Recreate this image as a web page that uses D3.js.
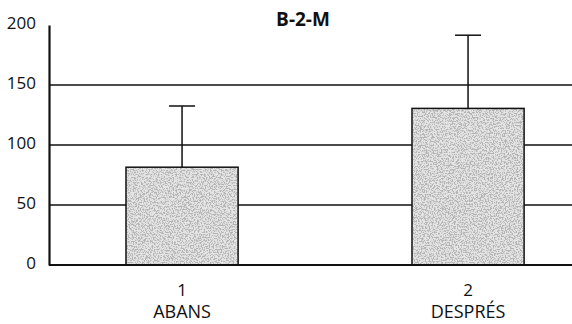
<!DOCTYPE html>
<html>
<head>
<meta charset="utf-8">
<script src="https://cdn.jsdelivr.net/npm/d3@7"></script>
<style>
  body { margin: 0; background: #fff; }
  svg text { font-family: "Open Sans", Lato, sans-serif; fill: #111; }
</style>
</head>
<body>
<svg id="chart"></svg>
<script>
const svgWidth = 572;
const svgHeight = 324;

// data
const groups = ["1", "2"];
const groupNames = ["ABANS", "DESPRÉS"];
const means = [81.5, 130.5];
const errors = [51, 61];
const yTicks = [0, 50, 100, 150, 200];
const gridTicks = [50, 100, 150];
const title = "B-2-M";

const svg = d3.select("#chart")
    .attr("width", svgWidth)
    .attr("height", svgHeight);

// grainy grey fill like the scanned original
const defs = svg.append("defs");
const grain = defs.append("filter")
    .attr("id", "grain")
    .attr("x", 0).attr("y", 0).attr("width", 1).attr("height", 1);
grain.append("feTurbulence")
    .attr("type", "fractalNoise")
    .attr("baseFrequency", 0.75)
    .attr("numOctaves", 2)
    .attr("seed", 7)
    .attr("result", "noise");
grain.append("feColorMatrix")
    .attr("in", "noise")
    .attr("type", "matrix")
    .attr("values", "0 0 0 0 0.45  0 0 0 0 0.45  0 0 0 0 0.45  7 0 0 0 -3.2")
    .attr("result", "dots");
grain.append("feComposite")
    .attr("in", "dots")
    .attr("in2", "SourceGraphic")
    .attr("operator", "in")
    .attr("result", "dotsIn");
const merge = grain.append("feMerge");
merge.append("feMergeNode").attr("in", "SourceGraphic");
merge.append("feMergeNode").attr("in", "dotsIn");

const x = d3.scaleBand()
    .domain(groups)
    .range([40.2, 609.9])
    .paddingInner(0.608)
    .paddingOuter(0.3);

const y = d3.scaleLinear()
    .domain([0, 200])
    .range([265, 25]);

const left = 49;

// grid lines
svg.append("g")
    .selectAll("line")
    .data(gridTicks)
    .join("line")
    .attr("x1", left)
    .attr("x2", svgWidth)
    .attr("y1", d => y(d))
    .attr("y2", d => y(d))
    .attr("stroke", "#111")
    .attr("stroke-width", 1.4);

// bars
const bars = svg.append("g");
bars.selectAll("rect.fill")
    .data(means)
    .join("rect")
    .attr("class", "fill")
    .attr("x", (d, i) => x(groups[i]))
    .attr("y", d => y(d))
    .attr("width", x.bandwidth())
    .attr("height", d => y(0) - y(d))
    .attr("fill", "#e6e6e6")
    .attr("filter", "url(#grain)");
bars.selectAll("rect.edge")
    .data(means)
    .join("rect")
    .attr("class", "edge")
    .attr("x", (d, i) => x(groups[i]))
    .attr("y", d => y(d))
    .attr("width", x.bandwidth())
    .attr("height", d => y(0) - y(d))
    .attr("fill", "none")
    .attr("stroke", "#111")
    .attr("stroke-width", 1.5);

// error bars (upper only)
const capW = 26;
const err = svg.append("g").attr("stroke", "#111").attr("stroke-width", 1.5);
err.selectAll("line.stem")
    .data(means)
    .join("line")
    .attr("class", "stem")
    .attr("x1", (d, i) => x(groups[i]) + x.bandwidth() / 2)
    .attr("x2", (d, i) => x(groups[i]) + x.bandwidth() / 2)
    .attr("y1", d => y(d))
    .attr("y2", (d, i) => y(d + errors[i]));
err.selectAll("line.cap")
    .data(means)
    .join("line")
    .attr("class", "cap")
    .attr("x1", (d, i) => x(groups[i]) + x.bandwidth() / 2 - capW / 2)
    .attr("x2", (d, i) => x(groups[i]) + x.bandwidth() / 2 + capW / 2)
    .attr("y1", (d, i) => y(d + errors[i]))
    .attr("y2", (d, i) => y(d + errors[i]));

// baseline
svg.append("line")
    .attr("x1", left)
    .attr("x2", svgWidth)
    .attr("y1", y(0))
    .attr("y2", y(0))
    .attr("stroke", "#111")
    .attr("stroke-width", 2);

// y axis
const yAxis = svg.append("g")
    .attr("transform", `translate(${left},0)`)
    .call(d3.axisLeft(y).tickValues(yTicks).tickSize(0).tickPadding(13));
yAxis.select(".domain").attr("stroke", "#111").attr("stroke-width", 2.2);
yAxis.selectAll("text")
    .style("font-size", "17px")
    .attr("dy", "0.2em");

// x labels
const xl = svg.append("g");
xl.selectAll("text.num")
    .data(groups)
    .join("text")
    .attr("class", "num")
    .attr("x", d => x(d) + x.bandwidth() / 2)
    .attr("y", 296)
    .attr("text-anchor", "middle")
    .style("font-size", "17px")
    .text(d => d);
xl.selectAll("text.name")
    .data(groupNames)
    .join("text")
    .attr("class", "name")
    .attr("x", (d, i) => x(groups[i]) + x.bandwidth() / 2)
    .attr("y", 318)
    .attr("text-anchor", "middle")
    .style("font-size", "18px")
    .text(d => d);

// title
svg.append("text")
    .attr("x", 303)
    .attr("y", 26)
    .attr("text-anchor", "middle")
    .style("font-size", "19px")
    .style("font-weight", "bold")
    .text(title);
</script>
</body>
</html>
